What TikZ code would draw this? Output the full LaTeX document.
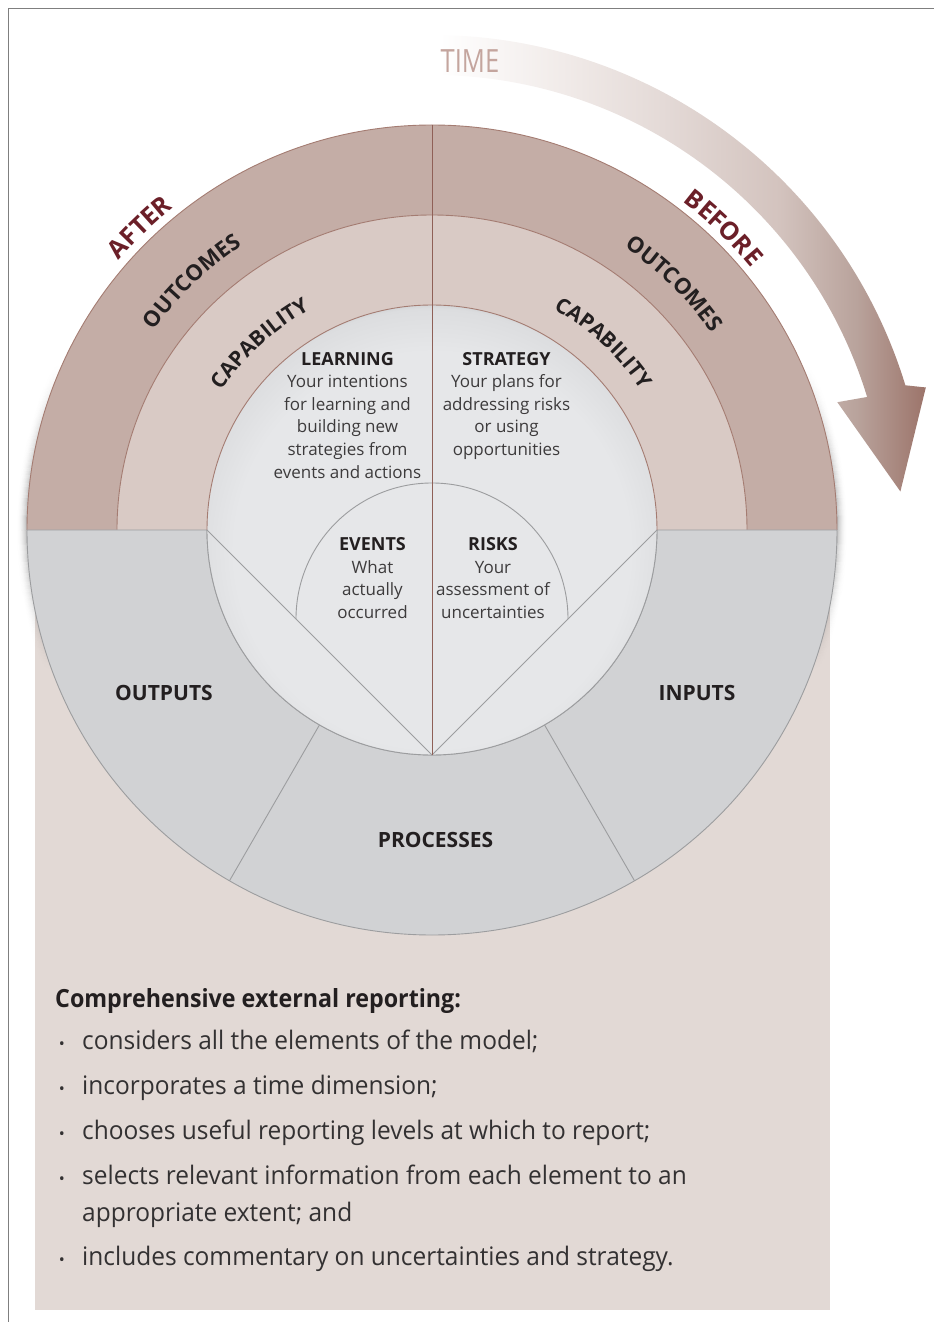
\documentclass[tikz,border=0pt]{standalone}
\usepackage{fontspec}
\setmainfont{Open Sans}
\newfontfamily\condfont[FakeStretch=0.96]{Open Sans}
\newfontfamily\condbfont[FakeStretch=0.93]{Open Sans}
\newfontfamily\timefont[FakeStretch=0.8]{Open Sans}
\usetikzlibrary{decorations.text,fadings}
\definecolor{framec}{HTML}{7F7F7F}
\definecolor{pinkbg}{HTML}{E2D9D5}
\definecolor{outc}{HTML}{C4ADA6}
\definecolor{capc}{HTML}{D9CAC5}
\definecolor{ringline}{HTML}{A47C72}
\definecolor{grayring}{HTML}{D1D2D4}
\definecolor{grayline}{HTML}{9C9D9F}
\definecolor{innerc}{HTML}{E6E7E9}
\definecolor{innermid}{HTML}{DCDDDF}
\definecolor{innerdk}{HTML}{A6A7A9}
\definecolor{vlinec}{HTML}{8F6057}
\definecolor{titlec}{HTML}{231F20}
\definecolor{bodyc}{HTML}{3D3B3C}
\definecolor{afterc}{HTML}{6B1F28}
\definecolor{timec}{HTML}{C4A59E}
\definecolor{arrowa}{HTML}{F1EBE9}
\definecolor{arrowb}{HTML}{E4DAD7}
\definecolor{arrowc}{HTML}{D3C3BE}
\definecolor{arrowd}{HTML}{B9A39C}
\definecolor{arrowdk}{HTML}{9C746A}
\definecolor{bottomc}{HTML}{333132}
\pgfdeclareradialshading{innersh}{\pgfpoint{0bp}{-4bp}}{color(0bp)=(innerc); color(22bp)=(innerc); color(26.5bp)=(innermid); color(29bp)=(innerdk); color(50bp)=(innerdk)}
\pgfdeclarehorizontalshading{arrowsh}{100bp}{color(0bp)=(white); color(27.4bp)=(white); color(39.4bp)=(arrowa); color(49.2bp)=(arrowb); color(60.7bp)=(arrowc); color(68.2bp)=(arrowd); color(75bp)=(arrowdk); color(100bp)=(arrowdk)}
\tikzfading[name=vfade, top color=transparent!100, bottom color=transparent!100, middle color=transparent!0]
\tikzset{
  ttl/.style={font=\fontsize{18}{22}\selectfont\bfseries, text=titlec, anchor=base, inner sep=0pt},
  bdy/.style={font=\fontsize{17}{22}\selectfont, text=bodyc, anchor=base, inner sep=0pt},
  seg/.style={font=\fontsize{21}{24}\selectfont\bfseries, text=titlec, anchor=base, inner sep=0pt},
  hd/.style={font=\condbfont\bfseries\fontsize{25}{29}\selectfont, text=titlec, anchor=base west, inner sep=0pt},
  item/.style={font=\condfont\fontsize{25.5}{29}\selectfont, text=bottomc, anchor=base west, inner sep=0pt},
  bul/.style={font=\fontsize{16}{20}\selectfont, text=bottomc, anchor=base, inner sep=0pt},
  ringdraw/.style={draw=ringline, line width=0.9pt},
  graydraw/.style={draw=grayline, line width=0.9pt},
}
\begin{document}
\begin{tikzpicture}[x=1pt,y=1pt]
\useasboundingbox (-432,-792) rectangle (502,530);
% frame
\draw[framec, line width=1.3pt] (-423.5,-792) -- (-423.5,521.5) -- (502,521.5);
% background panel
\fill[pinkbg] (-397,0) rectangle (398,-780);
% time arrow
\shade[shading=arrowsh]
  (92:495pt) arc[start angle=92, end angle=17, radius=495pt] -- (16.1:514pt) -- (4.7:470pt)
  -- (17.5:425pt) -- (17:455pt) arc[start angle=17, end angle=92, radius=455pt] -- cycle;
% side shadows
\foreach \k in {1,...,10}{
  \pgfmathsetmacro{\ra}{404+\k}
  \pgfmathsetmacro{\rb}{405+\k}
  \pgfmathsetmacro{\op}{0.3*(1-\k/11)^2}
  \fill[black, opacity=\op, path fading=vfade] (24:\ra pt) arc[start angle=24, end angle=-20, radius=\ra pt]
    -- (-20:\rb pt) arc[start angle=-20, end angle=24, radius=\rb pt] -- cycle;
  \fill[black, opacity=\op, path fading=vfade] (156:\ra pt) arc[start angle=156, end angle=200, radius=\ra pt]
    -- (200:\rb pt) arc[start angle=200, end angle=156, radius=\rb pt] -- cycle;
}
% upper rings
\fill[outc] (-405,0) arc[start angle=180, end angle=0, radius=405pt] -- (315,0)
  arc[start angle=0, end angle=180, radius=315pt] -- cycle;
\draw[ringdraw] (-405,0) arc[start angle=180, end angle=0, radius=405pt];
\fill[capc] (-315,0) arc[start angle=180, end angle=0, radius=315pt] -- (225,0)
  arc[start angle=0, end angle=180, radius=225pt] -- cycle;
\draw[ringdraw] (-315,0) arc[start angle=180, end angle=0, radius=315pt];
% lower ring
\filldraw[fill=grayring, graydraw] (-405,0) arc[start angle=180, end angle=360, radius=405pt] -- (225,0)
  arc[start angle=0, end angle=-180, radius=225pt] -- cycle;
\draw[graydraw] (240:225pt) -- (240:405pt);
\draw[graydraw] (300:225pt) -- (300:405pt);
% inner circle
\shade[shading=innersh] (0,0) circle[radius=225pt];
\draw[ringdraw] (225,0) arc[start angle=0, end angle=180, radius=225pt];
\draw[graydraw] (-225,0) arc[start angle=180, end angle=360, radius=225pt];
\draw[graydraw] (-225,0) -- (0,-225) -- (225,0);
\draw[graydraw] (-136,-89) arc[start angle=180, end angle=0, radius=136pt];
\draw[vlinec, line width=0.9pt] (0,405) -- (0,-225);
% curved labels
\path[decorate, decoration={text along path, text align=center, text color=titlec,
  text={|\fontsize{22}{26}\selectfont\bfseries|OUTCOMES}}]
  (164:342pt) arc[start angle=164, end angle=104, radius=342pt];
\path[decorate, decoration={text along path, text align=center, text color=titlec,
  text={|\fontsize{22}{26}\selectfont\bfseries|OUTCOMES}}]
  (75.5:342pt) arc[start angle=75.5, end angle=15.5, radius=342pt];
\path[decorate, decoration={text along path, text align=center, text color=titlec,
  text={|\fontsize{21}{25}\selectfont\bfseries|CAPABILITY}}]
  (162.7:252pt) arc[start angle=162.7, end angle=102.7, radius=252pt];
\path[decorate, decoration={text along path, text align=center, text color=titlec,
  text={|\fontsize{21}{25}\selectfont\bfseries|CAPABILITY}}]
  (77.5:252pt) arc[start angle=77.5, end angle=17.5, radius=252pt];
\path[decorate, decoration={text along path, text align=center, text color=afterc,
  text={|\fontsize{25}{29}\selectfont\bfseries|AFTER}}]
  (164:413pt) arc[start angle=164, end angle=104, radius=413pt];
\path[decorate, decoration={text along path, text align=center, text color=afterc,
  text={|\fontsize{25}{29}\selectfont\bfseries|BEFORE}}]
  (76:413pt) arc[start angle=76, end angle=16, radius=413pt];
% time label
\node[font=\timefont\fontsize{32}{32}\selectfont, text=timec, anchor=base, inner sep=0pt] (time) at (38,457) {TIME};
% learning
\node[ttl] (learn) at (-84.5,164) {LEARNING};
\node[bdy] (l1) at (-84.5,142) {Your intentions};
\node[bdy] (l2) at (-84.5,119) {for learning and};
\node[bdy] (l3) at (-84.5,97) {building new};
\node[bdy] (l4) at (-84.5,74) {strategies from};
\node[bdy] (l5) at (-84.5,51) {events and actions};
% strategy
\node[ttl] (strat) at (74.5,164) {STRATEGY};
\node[bdy] (s1) at (74.5,142) {Your plans for};
\node[bdy] (s2) at (74.5,119) {addressing risks};
\node[bdy] (s3) at (74.5,97) {or using};
\node[bdy] (s4) at (74.5,74) {opportunities};
% events
\node[ttl] (events) at (-59.5,-20) {EVENTS};
\node[bdy] (e1) at (-59.5,-43) {What};
\node[bdy] (e2) at (-59.5,-65) {actually};
\node[bdy] (e3) at (-59.5,-88) {occurred};
% risks
\node[ttl] (risks) at (61,-20) {RISKS};
\node[bdy] (r1) at (61,-43) {Your};
\node[bdy] (r2) at (61,-65) {assessment of};
\node[bdy] (r3) at (61,-88) {uncertainties};
% lower segments
\node[seg] (outputs) at (-268,-170) {OUTPUTS};
\node[seg] (inputs) at (265,-170) {INPUTS};
\node[seg] (processes) at (3.5,-317) {PROCESSES};
% bottom text
\node[hd] (head) at (-377,-477) {Comprehensive external reporting:};
\node[bul] (b1) at (-370,-519) {•};
\node[item] (i1) at (-350,-519) {considers all the elements of the model;};
\node[bul] (b2) at (-370,-564) {•};
\node[item] (i2) at (-350,-564) {incorporates a time dimension;};
\node[bul] (b3) at (-370,-609) {•};
\node[item] (i3) at (-350,-609) {chooses useful reporting levels at which to report;};
\node[bul] (b4) at (-370,-654) {•};
\node[item] (i4) at (-350,-654) {selects relevant information from each element to an};
\node[item] (i4b) at (-350,-691) {appropriate extent; and};
\node[bul] (b5) at (-370,-735) {•};
\node[item] (i5) at (-350,-735) {includes commentary on uncertainties and strategy.};
\end{tikzpicture}
\end{document}
